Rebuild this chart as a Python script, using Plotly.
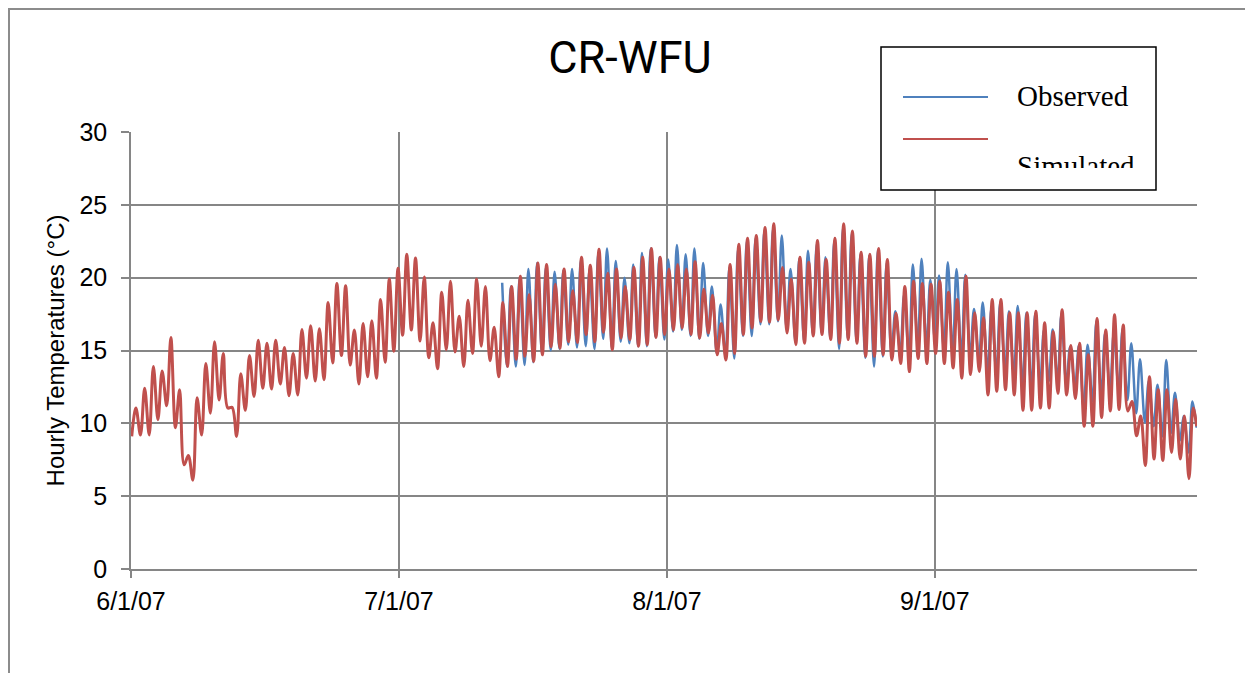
import plotly.graph_objects as go

# ---------------- data ----------------
# daily minimum / maximum of the hourly simulated temperature, day 0 = 6/1/07
sim_min = [9.1, 9.2, 9.2, 10.25, 11.2, 9.7, 7.15, 6.1, 9.2, 10.7,
           11.6, 11.05, 9.1, 10.9, 11.85, 12.4, 12.35, 12.7, 11.9, 11.95,
           13.1, 12.9, 13.0, 14.15, 14.65, 14.0, 12.7, 13.2, 13.1, 14.2,
           14.95, 16.05, 16.4, 15.65, 14.5, 13.75, 15.05, 14.9, 13.9, 14.8,
           15.3, 14.3, 13.2, 13.9, 14.4, 14.6, 14.25, 14.7, 15.25, 15.15,
           15.6, 15.55, 16.1, 15.6, 16.25, 15.05, 15.85, 15.75, 15.3, 15.4,
           15.9, 16.1, 16.4, 16.55, 16.1, 15.85, 16.2, 14.7, 14.35, 14.8,
           16.1, 16.55, 17.0, 16.95, 17.1, 16.2, 15.4, 15.5, 16.0, 16.1,
           15.75, 15.5, 15.75, 15.5, 14.6, 14.6, 14.7, 14.35, 14.1, 13.55,
           14.45, 14.1, 14.8, 14.1, 13.8, 13.1, 13.35, 13.55, 11.95, 12.2,
           12.3, 11.95, 10.9, 10.9, 11.05, 11.05, 12.05, 11.95, 11.7, 9.8,
           9.8, 10.4, 10.85, 10.95, 10.85, 9.15, 7.1, 7.55, 7.45, 8.0,
           7.55, 6.2]
sim_max = [11.05, 12.4, 13.9, 13.6, 15.9, 12.3, 7.8, 11.75, 14.1, 15.6,
           14.8, 11.1, 13.4, 14.65, 15.7, 15.5, 15.7, 15.2, 14.8, 16.45,
           16.7, 16.5, 18.3, 19.6, 19.45, 16.4, 16.85, 17.05, 18.5, 19.9,
           20.65, 21.6, 21.35, 20.05, 16.9, 19.0, 19.75, 17.35, 18.45, 19.9,
           19.4, 16.6, 18.3, 19.4, 20.1, 18.85, 21.0, 20.9, 19.55, 20.6,
           19.1, 21.4, 20.85, 21.95, 20.3, 20.6, 19.4, 20.7, 21.4, 22.0,
           21.4, 20.6, 20.9, 20.6, 21.1, 19.2, 18.8, 16.85, 20.9, 22.3,
           22.7, 22.9, 23.45, 23.7, 20.7, 19.9, 21.4, 21.05, 22.55, 21.25,
           22.7, 23.7, 23.2, 21.75, 21.6, 22.0, 21.25, 17.55, 19.4, 19.75,
           19.6, 19.55, 19.75, 19.0, 18.5, 20.1, 17.6, 17.25, 18.5, 18.5,
           17.6, 17.6, 17.6, 17.7, 16.9, 16.3, 17.8, 15.35, 15.5, 14.7,
           17.2, 16.4, 17.45, 16.75, 11.5, 10.5, 13.2, 12.3, 12.3, 11.65,
           10.5, 11.05]
sim_last = 9.8

# observed record starts on day 42 (7/13/07)
obs_first_day = 42
obs_min = [None, 13.9, 13.9, 14.0, 14.2, 14.8, 15.0, 15.1,
           15.4, 15.2, 15.3, 15.1, 15.8, 15.15, 15.6, 15.5, 15.3, 15.3,
           15.9, 15.75, 16.3, 16.4, 16.0, 15.8, 16.0, 14.8, 14.6, 14.45,
           16.0, 16.0, 16.8, 16.8, 17.0, 16.4, 15.6, 15.6, 16.1, 16.2,
           15.8, 15.1, 15.8, 15.6, 14.5, 13.9, 14.6, 14.8, 14.9, 14.5,
           15.3, 15.2, 15.5, 15.0, 14.8, 14.5, 14.6, 14.3, 13.5, 13.5,
           13.6, 13.3, 12.6, 12.5, 12.6, 12.9, 13.0, 12.7, 12.5, 11.0,
           11.5, 12.0, 12.2, 12.3, 11.6, 10.7, 10.05, 9.8, 9.1, 9.35,
           8.8, 8.0]
obs_max = [19.65, 19.4, 20.0, 20.6, 21.0, 20.7, 20.4, 20.5,
           20.6, 21.2, 20.6, 21.7, 22.0, 21.15, 20.0, 20.9, 21.7, 22.0,
           21.4, 21.25, 22.25, 21.6, 22.0, 21.0, 19.4, 18.15, 20.7, 22.0,
           22.5, 22.7, 23.2, 23.35, 22.9, 20.6, 21.3, 21.85, 22.3, 21.4,
           22.5, 23.4, 23.0, 21.6, 21.5, 21.9, 21.0, 17.7, 18.85, 20.9,
           21.3, 19.85, 20.15, 21.05, 20.6, 20.2, 17.85, 18.3, 17.95, 18.3,
           17.7, 18.05, 17.6, 17.5, 16.4, 16.45, 17.5, 15.25, 15.35, 15.4,
           17.0, 16.2, 16.2, 16.5, 15.5, 14.4, 12.9, 12.65, 14.35, 12.1,
           10.5, 11.5]
obs_last = 9.7

# hourly category axis: labels every 736 hours, 2928 hours in total
tick_hours = [0, 736, 1472, 2208]
tick_labels = ["6/1/07", "7/1/07", "8/1/07", "9/1/07"]
n_hours = 2928
y_ticks = [0, 5, 10, 15, 20, 25, 30]

SIM_TROUGH_H, SIM_PEAK_H = 2.0, 13.5
OBS_TROUGH_H, OBS_PEAK_H = 1.0, 11.5
END_H = 23.0


def build(first_day, mins, maxs, last, trough_h, peak_h):
    xs, ys = [], []
    for i, (lo, hi) in enumerate(zip(mins, maxs)):
        d = first_day + i
        if lo is not None:
            xs.append(d * 24 + trough_h)
            ys.append(lo)
        if hi is not None:
            xs.append(d * 24 + peak_h)
            ys.append(hi)
    xs.append((first_day + len(mins) - 1) * 24 + END_H)
    ys.append(last)
    return xs, ys


sx, sy = build(0, sim_min, sim_max, sim_last, SIM_TROUGH_H, SIM_PEAK_H)
ox, oy = build(obs_first_day, obs_min, obs_max, obs_last, OBS_TROUGH_H, OBS_PEAK_H)

BLUE = "#4F81BD"
RED = "#C0504D"
GRID = "#868686"

fig = go.Figure()
fig.add_trace(go.Scatter(x=ox, y=oy, mode="lines", name="Observed",
                         line=dict(color=BLUE, width=2.5, shape="spline", smoothing=1),
                         showlegend=False))
fig.add_trace(go.Scatter(x=sx, y=sy, mode="lines", name="Simulated",
                         line=dict(color=RED, width=3, shape="spline", smoothing=1),
                         showlegend=False))

# page has an 8px body margin: the figure starts at (8, 8) in the window
OFF = 8
PL, PT, PR, PB = 131, 132, 1197, 569   # plot area in window pixels
W, H = 1253 - OFF, 673 - OFF
L, T = PL - OFF, PT - OFF
R = W - (PR - OFF)
B = H - (PB - OFF)


def px(xp):
    return (xp - PL) / (PR - PL)


def py(yp):
    return (PB - yp) / (PB - PT)


shapes = [
    # outer chart border
    dict(type="rect", xref="paper", yref="paper", x0=px(9), x1=px(1249), y0=py(720), y1=py(9),
         line=dict(color="#8C8C8C", width=2), fillcolor="rgba(0,0,0,0)", layer="below"),
    # legend box
    dict(type="rect", xref="paper", yref="paper", x0=px(881), x1=px(1156), y0=py(190), y1=py(47),
         line=dict(color="black", width=1.5), fillcolor="white", layer="above"),
    dict(type="line", xref="paper", yref="paper", x0=px(903), x1=px(988), y0=py(97), y1=py(97),
         line=dict(color=BLUE, width=2), layer="above"),
    dict(type="line", xref="paper", yref="paper", x0=px(903), x1=px(988), y0=py(139), y1=py(139),
         line=dict(color=RED, width=2), layer="above"),
]

serif = "Liberation Serif, Times New Roman, serif"
annotations = [
    dict(text="Observed", xref="paper", yref="paper", x=px(1015), y=py(96), xanchor="left",
         yanchor="middle", showarrow=False, font=dict(family=serif, size=29, color="black")),
    dict(text="Simulated", xref="paper", yref="paper", x=px(1015), y=py(166), xanchor="left",
         yanchor="middle", showarrow=False, font=dict(family=serif, size=29, color="black")),
    # clip the lower part of "Simulated" as in the original legend box
    dict(text=" ", xref="paper", yref="paper", x=px(1005), y=py(168), xanchor="left",
         yanchor="top", showarrow=False, width=145, height=20, bgcolor="white",
         borderpad=0, borderwidth=0, font=dict(size=8)),
]

sans = "Liberation Sans, Arial, sans-serif"
fig.update_layout(
    width=W, height=H,
    margin=dict(l=L, r=R, t=T, b=B),
    paper_bgcolor="white", plot_bgcolor="white",
    title=dict(text="CR-WFU", x=(630 - OFF) / W, xanchor="center", y=1 - (57 - OFF) / H,
               yanchor="middle", yref="container",
               font=dict(family="Liberation Sans Narrow, Arial Narrow, Roboto, sans-serif",
                         size=45, color="black")),
    xaxis=dict(range=[0, n_hours], tickmode="array", tickvals=tick_hours, ticktext=tick_labels,
               showgrid=True, gridcolor=GRID, gridwidth=1.5,
               showline=True, linecolor=GRID, linewidth=1.5,
               ticks="outside", ticklen=7, tickcolor=GRID, tickwidth=1.5,
               ticklabelstandoff=2,
               tickfont=dict(family=sans, size=25, color="black"), zeroline=False),
    yaxis=dict(range=[0, 30], tickmode="array", tickvals=y_ticks,
               showgrid=True, gridcolor=GRID, gridwidth=1.5,
               showline=True, linecolor=GRID, linewidth=1.5,
               ticks="outside", ticklen=8, tickcolor=GRID, tickwidth=1.5,
               ticklabelstandoff=9,
               tickfont=dict(family=sans, size=25, color="black"), zeroline=False,
               title=dict(text="Hourly Temperatures (°C)", standoff=8,
                          font=dict(family=sans, size=24, color="black"))),
    shapes=shapes,
    annotations=annotations,
    showlegend=False,
)

fig.write_html("out.html")
